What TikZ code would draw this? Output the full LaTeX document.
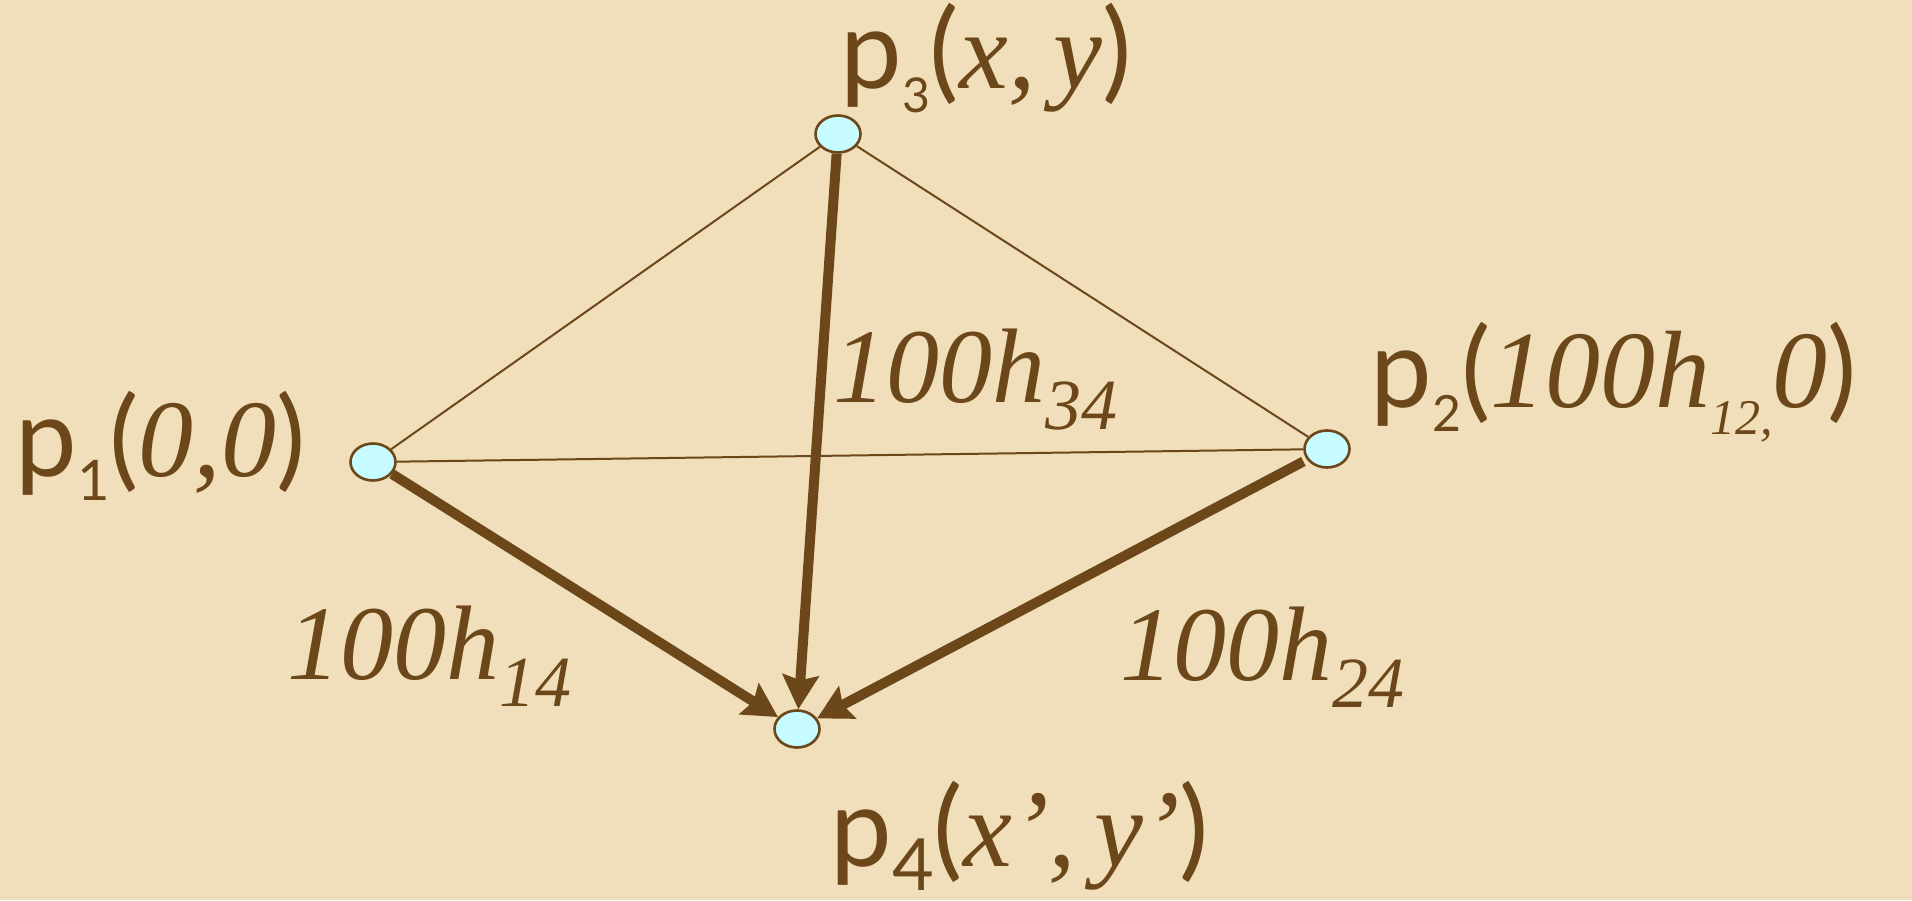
\documentclass[tikz,border=0pt]{standalone}
\usepackage{fontspec}
\newfontfamily\tmsI{Liberation Serif Italic}
\newfontfamily\sansp{Lato}
\usetikzlibrary{arrows.meta,shapes.geometric}
\definecolor{brn}{HTML}{6B471A}
\definecolor{bg}{HTML}{F0DFBA}
\definecolor{cy}{HTML}{C6FBFF}
\newcommand{\subbox}[3]{\raisebox{-#2}{\fontsize{#1}{#1}\selectfont #3}}
\newcommand{\tmsit}[1]{{\tmsI #1}}
\begin{document}
\begin{tikzpicture}[x=0.5pt,y=-0.5pt,
  vtx/.style={ellipse,draw=brn,fill=cy,line width=1.3pt,minimum width=22.5pt,minimum height=18.5pt,inner sep=0pt},
  lbl/.style={font=\fontsize{53pt}{60pt}\selectfont,text=brn,inner sep=0pt,anchor=base west},
  slbl/.style={lbl,font=\fontsize{55pt}{60pt}\selectfont},
  thin/.style={draw=brn,line width=1pt},
  thick/.style={draw=brn,line width=5pt,-{Stealth[length=17pt,width=18pt,inset=2.5pt]}}]
\fill[bg] (0,0) rectangle (1912,900);
\node[vtx] (p1) at (373,462) {};
\node[vtx] (p2) at (1327,449) {};
\node[vtx] (p3) at (838,134) {};
\node[vtx] (p4) at (797,729) {};
\draw[thin] (p1) -- (p3);
\draw[thin] (p1) -- (p2);
\draw[thin] (p3) -- (p2);
\draw[thick] (p3) -- (p4);
\draw[thick] (p1) -- (p4);
\draw[thick,shorten <=2pt] (p2) -- (p4);
\node[slbl] (l3) at (840,88) {{\sansp p\subbox{24pt}{12pt}{3}(}\tmsit{x,\,y}{\sansp )}};
\node[slbl] (l1) at (15,476) {{\sansp p\subbox{28pt}{12pt}{1}(}\tmsit{0,0}{\sansp )}};
\node[slbl] (l2) at (1370,407) {{\sansp p\subbox{25pt}{12pt}{2}(}\tmsit{100h\subbox{25pt}{13.5pt}{12,}0}{\sansp )}};
\node[slbl] (l4) at (830,866) {{\sansp p\subbox{36pt}{12pt}{4}(}\tmsit{x’,\,y’}{\sansp )}};
\node[lbl] (e34) at (833,402) {\tmsit{100h\subbox{36pt}{13.5pt}{34}}};
\node[lbl] (e14) at (287,679) {\tmsit{100h\subbox{36pt}{13.5pt}{14}}};
\node[lbl] (e24) at (1120,680) {\tmsit{100h\subbox{36pt}{13.5pt}{24}}};
\end{tikzpicture}
\end{document}
